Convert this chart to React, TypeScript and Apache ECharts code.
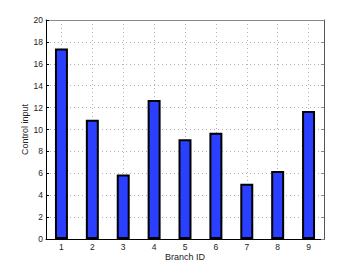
import React, { useEffect, useRef } from "react";
import * as echarts from "echarts";

const categories = ["1", "2", "3", "4", "5", "6", "7", "8", "9"];
const controlInput = [17.4, 10.9, 5.9, 12.7, 9.1, 9.7, 5.05, 6.2, 11.7];
const yTicks = { min: 0, max: 20, interval: 2 };

export default function App() {
  const ref = useRef<HTMLDivElement>(null);
  useEffect(() => {
    if (!ref.current) return;
    const chart = echarts.init(ref.current, null, { renderer: "svg" });
    const font = "Liberation Sans, Arial, sans-serif";
    const gridLine = { show: true, lineStyle: { type: [1, 3] as any, color: "#b0b0b0", width: 1 } };
    chart.setOption({
      animation: false,
      backgroundColor: "#fff",
      textStyle: { fontFamily: font },
      grid: { left: 46, right: 34, top: 20, bottom: 30, containLabel: false },
      xAxis: [
        {
          type: "category",
          data: categories,
          boundaryGap: true,
          name: "Branch ID",
          nameLocation: "middle",
          nameGap: 13,
          nameMoveOverlap: false,
          nameTextStyle: { fontSize: 9, color: "#222", fontFamily: font },
          axisLine: { onZero: false, lineStyle: { color: "#000", width: 1 } },
          axisTick: { inside: true, alignWithLabel: true, length: 3, lineStyle: { color: "#000" } },
          axisLabel: { fontSize: 8.5, color: "#222", margin: 3, fontFamily: font },
          splitLine: { ...gridLine, alignWithLabel: true },
        },
        {
          type: "category",
          data: categories,
          position: "top",
          boundaryGap: true,
          axisLine: { onZero: false, lineStyle: { color: "#888", width: 1 } },
          axisTick: { inside: true, alignWithLabel: true, length: 3, lineStyle: { color: "#888" } },
          axisLabel: { show: false },
          splitLine: { show: false },
        },
      ],
      yAxis: [
        {
          type: "value",
          ...yTicks,
          name: "Control input",
          nameLocation: "middle",
          nameGap: 17,
          nameMoveOverlap: false,
          nameTextStyle: { fontSize: 9, color: "#222", fontFamily: font },
          axisLine: { show: true, onZero: false, lineStyle: { color: "#000", width: 1 } },
          axisTick: { show: true, inside: true, length: 3, lineStyle: { color: "#000" } },
          axisLabel: { fontSize: 8.5, color: "#222", margin: 3, fontFamily: font },
          splitLine: gridLine,
        },
        {
          type: "value",
          ...yTicks,
          position: "right",
          axisLine: { show: true, onZero: false, lineStyle: { color: "#555", width: 1 } },
          axisTick: { show: true, inside: true, length: 3, lineStyle: { color: "#888" } },
          axisLabel: { show: false },
          splitLine: { show: false },
        },
      ],
      series: [
        {
          type: "bar",
          data: controlInput,
          xAxisIndex: 0,
          yAxisIndex: 0,
          barWidth: "42%",
          itemStyle: { color: "#2a3fff", borderColor: "#000", borderWidth: 2 },
        },
      ],
    });
    return () => chart.dispose();
  }, []);
  return (
    <div
      ref={ref}
      style={{ position: "absolute", left: 0, top: 0, width: 358, height: 269 }}
    />
  );
}
